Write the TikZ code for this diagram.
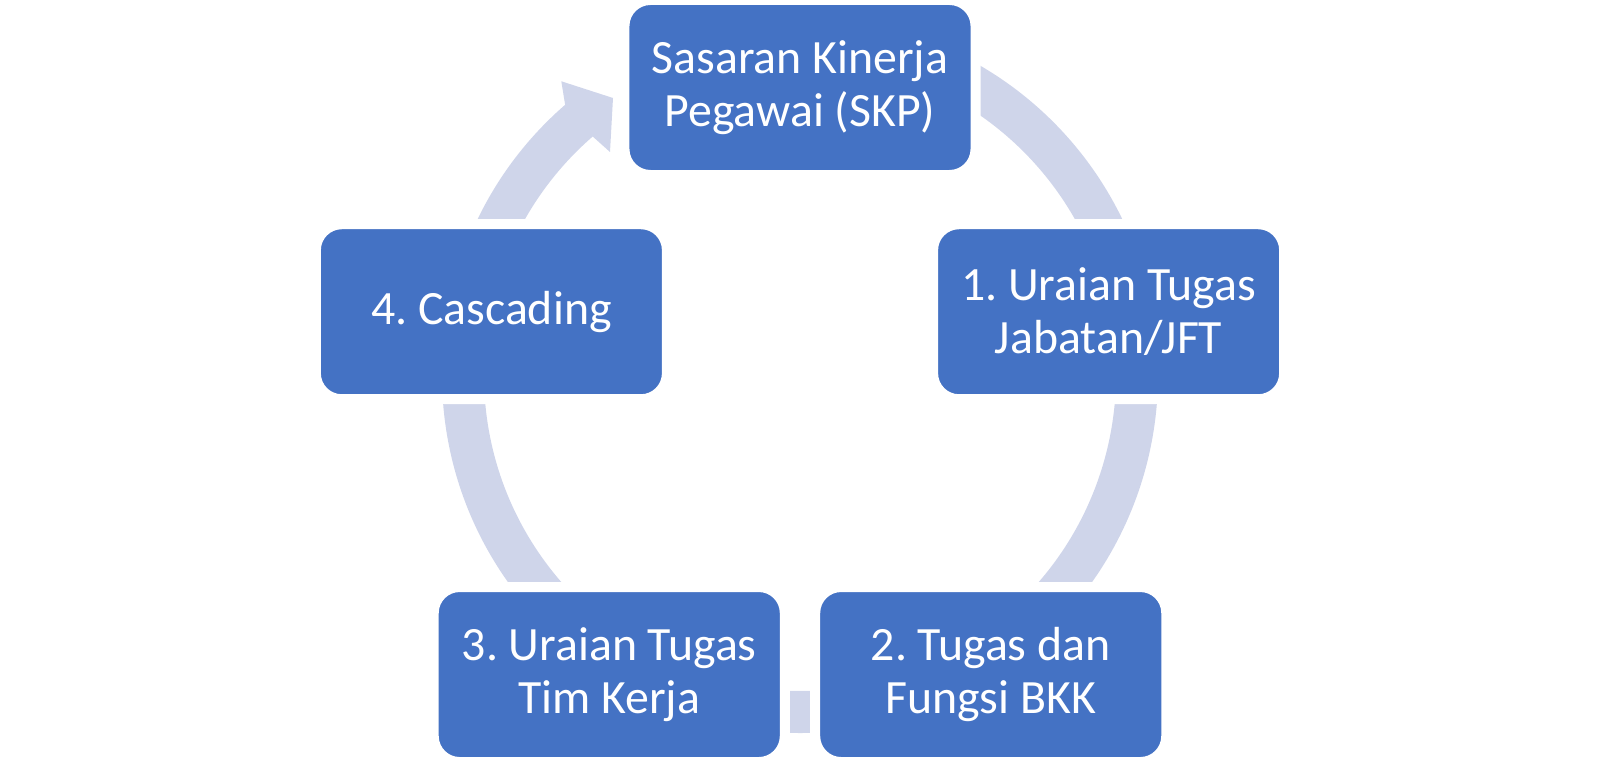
\documentclass[tikz,border=0pt]{standalone}
\usepackage{fontspec}
\setmainfont{Carlito}
\usepackage{tikz}
\usetikzlibrary{calc}
\definecolor{boxblue}{HTML}{4472C4}
\definecolor{ringblue}{HTML}{CFD5EA}
\frenchspacing

\begin{document}
\begin{tikzpicture}[x=0.025cm, y=0.025cm,
  stepbox/.style={rectangle, rounded corners=0.65cm, fill=boxblue, draw=white, line width=0.25cm,
    minimum width=8.775cm, minimum height=4.375cm, inner sep=0pt, align=center,
    text=white, font=\fontsize{34}{37.6}\selectfont}]
\useasboundingbox (0,0) rectangle (1600,764);
% Define the parameters
\pgfmathsetmacro{\Rbox}{324.5}
\pgfmathsetmacro{\Rring}{337}
\coordinate (boxc) at (800,352);
\coordinate (ringc) at (800,389);

% Draw ring
\draw[ringblue, line width=1.05cm] ($(ringc)+(130:\Rring)$) arc[start angle=130, end angle=420, radius=\Rring];
% Draw arrow head
\fill[ringblue] ($(ringc)+(131:358)$) -- ($(ringc)+(129.1:378.5)$) -- ($(ringc)+(-187,277)$)
  -- ($(ringc)+(-190,223)$) -- ($(ringc)+(131:316)$) -- cycle;

% Draw boxes
\node[stepbox] (skp) at ($(boxc)+(90:\Rbox)$) {Sasaran Kinerja\\Pegawai (SKP)};
\node[stepbox] (uraian) at ($(boxc)+(18:\Rbox)$) {1. Uraian Tugas\\Jabatan/JFT};
\node[stepbox] (fungsi) at ($(boxc)+(-54:\Rbox)$) {2. Tugas dan\\Fungsi BKK};
\node[stepbox] (timkerja) at ($(boxc)+(-126:\Rbox)$) {3. Uraian Tugas\\Tim Kerja};
\node[stepbox] (cascading) at ($(boxc)+(162:\Rbox)$) {4. Cascading};

\end{tikzpicture}
\end{document}
